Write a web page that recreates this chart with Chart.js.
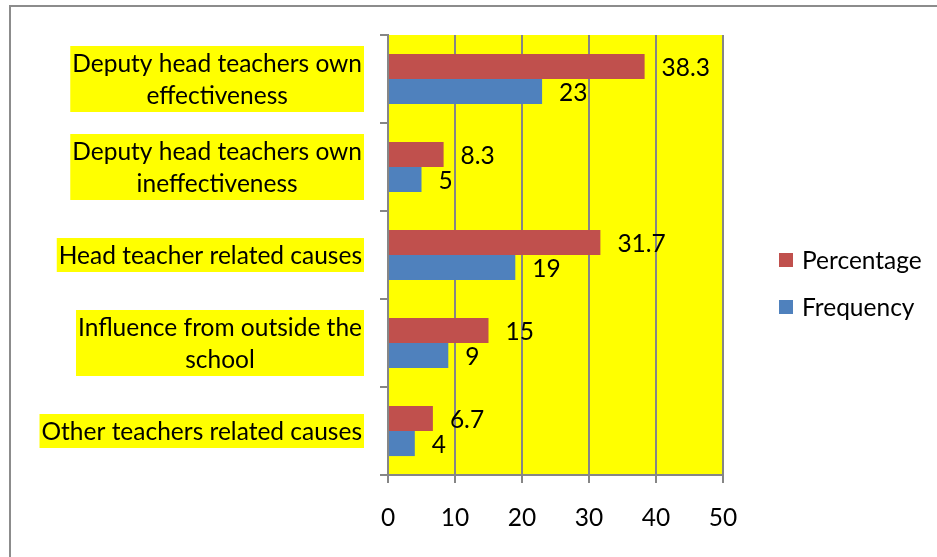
<!DOCTYPE html>
<html>
<head>
<meta charset="utf-8">
<script src="https://cdn.jsdelivr.net/npm/chart.js@4/dist/chart.umd.min.js"></script>
<style>
  html, body { margin: 0; padding: 0; background: #fff; }
  #wrap { position: relative; width: 937px; height: 557px; }
  canvas { display: block; }
</style>
</head>
<body>
<div id="wrap"><canvas id="c" width="937" height="557"></canvas></div>
<script>
// ---- data ----
const categories = [
  ["Deputy head teachers own", "effectiveness"],
  ["Deputy head teachers own", "ineffectiveness"],
  ["Head teacher related causes"],
  ["Influence from outside the", "school"],
  ["Other teachers related causes"]
];
const seriesNames = ["Percentage", "Frequency"];
const percentage = [38.3, 8.3, 31.7, 15, 6.7];
const frequency = [23, 5, 19, 9, 4];
const xTicks = [0, 10, 20, 30, 40, 50];

// ---- styles ----
const FONT = "Lato, 'Open Sans', sans-serif";
const FS = 24.5;
const RED = "#C0504D";
const BLUE = "#4F81BD";
const GRAY = "#868686";
const YELLOW = "#FFFF00";

const framePlugin = {
  id: "frame",
  beforeDraw(chart) {
    const ctx = chart.ctx, a = chart.chartArea;
    ctx.save();
    ctx.fillStyle = "#fff";
    ctx.fillRect(0, 0, chart.width, chart.height);
    ctx.strokeStyle = "#8c8c8c";
    ctx.lineWidth = 2;
    ctx.beginPath();
    ctx.moveTo(10, chart.height);
    ctx.lineTo(10, 6);
    ctx.lineTo(chart.width, 6);
    ctx.stroke();
    ctx.fillStyle = YELLOW;
    ctx.fillRect(a.left, a.top, a.right - a.left, a.bottom - a.top);
    ctx.restore();
  }
};

const labelsPlugin = {
  id: "catLabels",
  afterDraw(chart) {
    const ctx = chart.ctx;
    const y = chart.scales.y;
    ctx.save();
    ctx.font = FS + "px " + FONT;
    ctx.textBaseline = "middle";
    ctx.textAlign = "center";
    const lh = 32, rightEdge = 364, pad = 2;
    categories.forEach((lines, i) => {
      const cy = y.getPixelForValue(i);
      const w = Math.max(...lines.map(l => ctx.measureText(l).width)) + pad * 2;
      const h = lines.length * lh + 2;
      const top = cy - h / 2;
      ctx.fillStyle = YELLOW;
      ctx.fillRect(rightEdge - w, top, w, h);
      ctx.fillStyle = "#000";
      lines.forEach((l, k) => {
        ctx.fillText(l, rightEdge - w / 2, top + 2 + lh * k + lh / 2);
      });
    });
    // data labels
    ctx.textAlign = "left";
    chart.data.datasets.forEach((ds, di) => {
      const meta = chart.getDatasetMeta(di);
      meta.data.forEach((bar, j) => {
        ctx.fillText(String(ds.data[j]), bar.x + 17, bar.y + 2);
      });
    });
    // legend
    const items = [[seriesNames[0], RED, 260], [seriesNames[1], BLUE, 307]];
    items.forEach(([t, c, yy]) => {
      ctx.fillStyle = c;
      ctx.fillRect(779, yy - 7, 14, 14);
      ctx.fillStyle = "#000";
      ctx.fillText(t, 802, yy + 1);
    });
    ctx.restore();
  }
};

new Chart(document.getElementById("c"), {
  type: "bar",
  data: {
    labels: categories,
    datasets: [
      { label: seriesNames[0], data: percentage, backgroundColor: RED, borderWidth: 0 },
      { label: seriesNames[1], data: frequency, backgroundColor: BLUE, borderWidth: 0 }
    ]
  },
  options: {
    indexAxis: "y",
    responsive: false,
    animation: false,
    devicePixelRatio: 1,
    categoryPercentage: 0.57,
    barPercentage: 1,
    layout: { padding: { top: 35, right: 214, left: 0, bottom: 0 } },
    plugins: { legend: { display: false }, tooltip: { enabled: false } },
    scales: {
      x: {
        min: 0, max: 50,
        afterBuildTicks(s) { s.ticks = xTicks.map(v => ({ value: v })); },
        afterFit(s) { s.height = 82; },
        grid: { color: GRAY, lineWidth: 2, tickLength: 8 },
        border: { color: GRAY, width: 2 },
        ticks: { color: "#000", font: { family: FONT, size: FS }, padding: 20, maxRotation: 0 }
      },
      y: {
        afterFit(s) { s.width = 388; },
        grid: { color: GRAY, lineWidth: 2, tickLength: 8, drawOnChartArea: false, offset: true },
        border: { color: GRAY, width: 2 },
        ticks: { display: false }
      }
    }
  },
  plugins: [framePlugin, labelsPlugin]
});
</script>
</body>
</html>
